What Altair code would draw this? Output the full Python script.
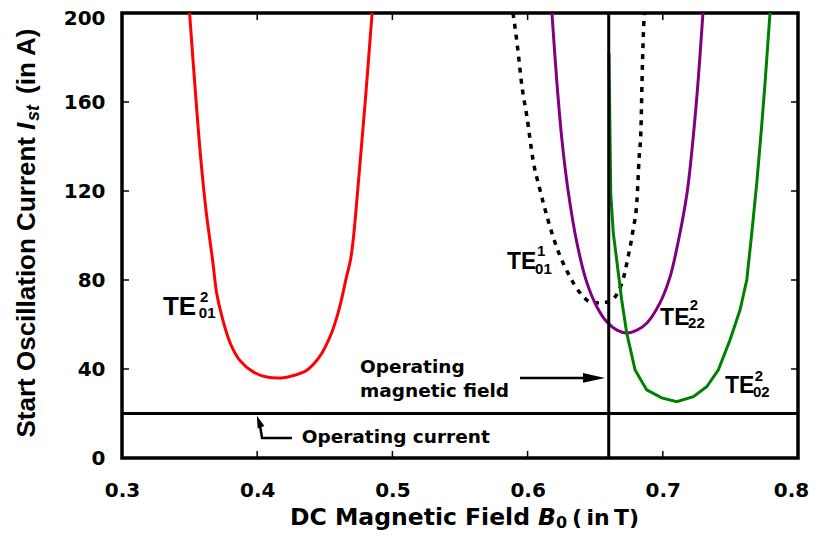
import altair as alt
import pandas as pd

# ---------------- data ----------------
x_ticks = [0.3, 0.4, 0.5, 0.6, 0.7, 0.8]
y_ticks = [0, 40, 80, 120, 160, 200]
x_ticks_inner = [0.4, 0.5, 0.6, 0.7]
y_ticks_inner = [40, 80, 120, 160]

red_x = [0.350, 0.3525, 0.3577, 0.3621, 0.367, 0.370, 0.374, 0.380, 0.387, 0.397, 0.407,
         0.418, 0.426, 0.437, 0.446, 0.455, 0.461, 0.466, 0.469, 0.471, 0.475, 0.480, 0.485]
red_y = [200, 179, 138.4, 111.5, 89, 74.2, 63.4, 51.7, 44, 38.7, 36.4,
         36, 36.9, 39.6, 45.4, 56.2, 67.9, 81.3, 89, 98, 125, 161, 200]

dot_x = [0.5892, 0.5922, 0.5959, 0.5996, 0.6040, 0.6092, 0.6151, 0.6217, 0.6299, 0.6388,
         0.6484, 0.6595, 0.6698, 0.6743, 0.6780, 0.6809, 0.6824, 0.6839, 0.6846, 0.6854, 0.6863]
dot_y = [200, 186.5, 166.7, 153, 134, 120.4, 107, 94.4, 83.1, 74.2,
         69.7, 70.1, 78.7, 90.3, 102.5, 116, 134, 149, 168.5, 186.5, 200]

pur_x = [0.6180, 0.6217, 0.6254, 0.6299, 0.6365, 0.6439, 0.6513, 0.6587, 0.6661, 0.6735,
         0.6809, 0.6883, 0.6979, 0.7053, 0.7112, 0.7179, 0.7223, 0.7260, 0.7297]
pur_y = [200, 168.5, 143, 120.4, 96.6, 78.7, 67.9, 61.1, 57.5, 56.2,
         57.5, 60.7, 69.7, 81.3, 96.6, 119, 143, 168.5, 200]

grn_x = [0.6602, 0.6610, 0.6615, 0.6634, 0.6659, 0.6696, 0.6733, 0.6795, 0.6881, 0.6992,
         0.7103, 0.7226, 0.7325, 0.7411, 0.7497, 0.7571, 0.7621, 0.7658, 0.7695, 0.7731,
         0.7756, 0.7793]
grn_y = [182, 143, 119, 101, 89, 71, 56.2, 39.6, 30.6, 27,
         25.3, 27.6, 32, 39.6, 53, 66.5, 80, 101, 123.5, 149,
         168.4, 200]

op_field = 0.66
op_current = 20

# mode labels: TE with subscript and superscript
te_text = ["TE", "TE", "TE", "TE"]
te_x = [0.3303, 0.5848, 0.698, 0.746]
te_y = [64.3, 84.9, 59.8, 29.2]
te_size = [26, 23, 23, 23]
sub_text = ["01", "01", "22", "02"]
sub_x = [0.3568, 0.6055, 0.7187, 0.7667]
sub_y = [62.9, 82.7, 58.4, 27.6]
sup_text = ["2", "1", "2", "2"]
sup_x = [0.3577, 0.607, 0.720, 0.768]
sup_y = [70.1, 90.8, 66.5, 34.6]

# annotation texts
ann_text = ["Operating", "magnetic field", "Operating current"]
ann_x = [0.476, 0.476, 0.4329]
ann_y = [38.3, 27.6, 6.7]

# arrows
fld_arrow_x = [0.5944, 0.6432]
fld_arrow_y = [36, 36]
fld_head_x = [0.6491]
fld_head_y = [36]
cur_arrow_x = [0.4257, 0.4036, 0.4021]
cur_arrow_y = [9.0, 9.0, 14.5]
cur_head_x = [0.4013]
cur_head_y = [16.4]

# ---------------- chart ----------------
W, H = 676, 445
xs = alt.Scale(domain=[0.3, 0.8], nice=False, zero=False)
ys = alt.Scale(domain=[0, 200], nice=False)

x_axis = alt.Axis(values=x_ticks, format=".1f", ticks=False, tickSize=0, domain=False,
                  grid=False, labelFont="DejaVu Sans", labelFontWeight="bold",
                  labelFontSize=20, labelColor="black", labelPadding=22,
                  labelFlush=False, labelOverlap=False,
                  labelOffset={"condition": {"test": "datum.value >= 0.79", "value": -7}, "value": 0})
y_axis = alt.Axis(values=y_ticks, ticks=False, tickSize=0, domain=False,
                  grid=False, labelFont="DejaVu Sans", labelFontWeight="bold",
                  labelFontSize=20, labelColor="black", labelPadding=17,
                  labelFlush=False, labelOverlap=False,
                  labelOffset={"condition": {"test": "datum.value >= 199", "value": 5}, "value": 0})


def X():
    return alt.X("x:Q", scale=xs, axis=x_axis, title=None)


def Y():
    return alt.Y("y:Q", scale=ys, axis=y_axis, title=None)


def df(xv, yv):
    d = pd.DataFrame({"x": xv, "y": yv})
    d["i"] = range(len(d))
    return d


red = alt.Chart(df(red_x, red_y)).mark_line(color="#ff0000", strokeWidth=3, interpolate="catmull-rom").encode(
    x=X(), y=Y(), order="i:Q")
dotted = alt.Chart(df(dot_x, dot_y)).mark_line(color="black", strokeWidth=3.5, strokeDash=[5, 6],
                                              interpolate="monotone").encode(x=X(), y=Y(), order="i:Q")
purple = alt.Chart(df(pur_x, pur_y)).mark_line(color="#800080", strokeWidth=3, interpolate="catmull-rom").encode(
    x=X(), y=Y(), order="i:Q")
green = alt.Chart(df(grn_x, grn_y)).mark_line(color="#008000", strokeWidth=3).encode(
    x=X(), y=Y(), order="i:Q")

vline = alt.Chart(pd.DataFrame({"x": [op_field]})).mark_rule(color="black", strokeWidth=3).encode(x=X())
hline = alt.Chart(pd.DataFrame({"y": [op_current]})).mark_rule(color="black", strokeWidth=3).encode(y=Y())

# inward ticks
tick_b = alt.Chart(pd.DataFrame({"x": x_ticks_inner})).mark_rule(color="black", strokeWidth=1.5).encode(
    x=X(), y=alt.value(H), y2=alt.value(H - 7))
tick_t = alt.Chart(pd.DataFrame({"x": x_ticks_inner})).mark_rule(color="black", strokeWidth=1.5).encode(
    x=X(), y=alt.value(0), y2=alt.value(7))
tick_l = alt.Chart(pd.DataFrame({"y": y_ticks_inner})).mark_rule(color="black", strokeWidth=1.5).encode(
    y=Y(), x=alt.value(0), x2=alt.value(7))
tick_r = alt.Chart(pd.DataFrame({"y": y_ticks_inner})).mark_rule(color="black", strokeWidth=1.5).encode(
    y=Y(), x=alt.value(W), x2=alt.value(W - 7))

# mode labels
te = alt.Chart(pd.DataFrame({"x": te_x, "y": te_y, "t": te_text, "s": te_size})).mark_text(
    font="Liberation Sans", fontWeight="bold", align="left", baseline="alphabetic", color="black").encode(
    x=X(), y=Y(), text="t:N", size=alt.Size("s:Q", scale=None, legend=None))
sub = alt.Chart(pd.DataFrame({"x": sub_x, "y": sub_y, "t": sub_text})).mark_text(
    font="Liberation Sans", fontWeight="bold", fontSize=15, align="left", baseline="alphabetic",
    color="black").encode(x=X(), y=Y(), text="t:N")
sup = alt.Chart(pd.DataFrame({"x": sup_x, "y": sup_y, "t": sup_text})).mark_text(
    font="Liberation Sans", fontWeight="bold", fontSize=15, align="left", baseline="alphabetic",
    color="black").encode(x=X(), y=Y(), text="t:N")

ann = alt.Chart(pd.DataFrame({"x": ann_x, "y": ann_y, "t": ann_text})).mark_text(
    font="DejaVu Sans", fontWeight="bold", fontSize=18.5, align="left", baseline="alphabetic",
    color="black").encode(x=X(), y=Y(), text="t:N")

fld_arrow = alt.Chart(df(fld_arrow_x, fld_arrow_y)).mark_line(color="black", strokeWidth=2.5).encode(
    x=X(), y=Y(), order="i:Q")
fld_head = alt.Chart(df(fld_head_x, fld_head_y)).mark_point(
    shape="M1,0L-1,-0.45L-1,0.45Z", size=484, filled=True, color="black", opacity=1).encode(x=X(), y=Y())
cur_arrow = alt.Chart(df(cur_arrow_x, cur_arrow_y)).mark_line(color="black", strokeWidth=2.5).encode(
    x=X(), y=Y(), order="i:Q")
cur_head = alt.Chart(df(cur_head_x, cur_head_y)).mark_point(
    shape="M0,-1L0.6,1L-0.6,1Z", size=144, filled=True, color="black", opacity=1, angle=340).encode(
    x=X(), y=Y())

# axis titles (with italic symbols and subscripts)
one = pd.DataFrame({"a": [0]})
XT_BASE = 512
xt1 = alt.Chart(one).mark_text(text="DC Magnetic Field", font="DejaVu Sans", fontWeight="bold",
                               fontSize=23.5, align="right", baseline="alphabetic", color="black").encode(
    x=alt.value(408), y=alt.value(XT_BASE))
xt2 = alt.Chart(one).mark_text(text="B", font="DejaVu Sans", fontWeight="bold", fontStyle="italic",
                               fontSize=23.5, align="left", baseline="alphabetic", color="black").encode(
    x=alt.value(416), y=alt.value(XT_BASE))
xt3 = alt.Chart(one).mark_text(text="0", font="DejaVu Sans", fontWeight="bold",
                               fontSize=16, align="left", baseline="alphabetic", color="black").encode(
    x=alt.value(434), y=alt.value(XT_BASE + 3))
xt4 = alt.Chart(one).mark_text(text="(\u2009in\u2009T)", font="DejaVu Sans", fontWeight="bold",
                               fontSize=22, align="left", baseline="alphabetic", color="black").encode(
    x=alt.value(450), y=alt.value(XT_BASE))

yt1 = alt.Chart(one).mark_text(text="Start Oscillation Current", font="Liberation Sans", fontWeight="bold",
                               fontSize=26, angle=270, align="right", baseline="alphabetic",
                               color="black").encode(x=alt.value(-87), y=alt.value(124))
yt2 = alt.Chart(one).mark_text(text="I", font="Liberation Sans", fontWeight="bold", fontStyle="italic",
                               fontSize=26, angle=270, align="left", baseline="alphabetic",
                               color="black").encode(x=alt.value(-87), y=alt.value(117))
yt3 = alt.Chart(one).mark_text(text="st", font="Liberation Sans", fontWeight="bold", fontStyle="italic",
                               fontSize=18, angle=270, align="left", baseline="alphabetic",
                               color="black").encode(x=alt.value(-83), y=alt.value(108))
yt4 = alt.Chart(one).mark_text(text="(in A)", font="Liberation Sans", fontWeight="bold",
                               fontSize=26, angle=270, align="left", baseline="alphabetic",
                               color="black").encode(x=alt.value(-87), y=alt.value(81))

chart = alt.layer(
    tick_b, tick_t, tick_l, tick_r,
    red, dotted, purple, green, vline, hline,
    te, sub, sup, ann, fld_arrow, fld_head, cur_arrow, cur_head,
    xt1, xt2, xt3, xt4, yt1, yt2, yt3, yt4,
).properties(
    width=W, height=H,
    autosize=alt.AutoSizeParams(type="none"),
    padding={"left": 114, "top": 5, "right": 11, "bottom": 73},
    background="white",
).configure_view(stroke="black", strokeWidth=3.5)

chart.save("out.html", embed_options={"renderer": "svg", "actions": False})
